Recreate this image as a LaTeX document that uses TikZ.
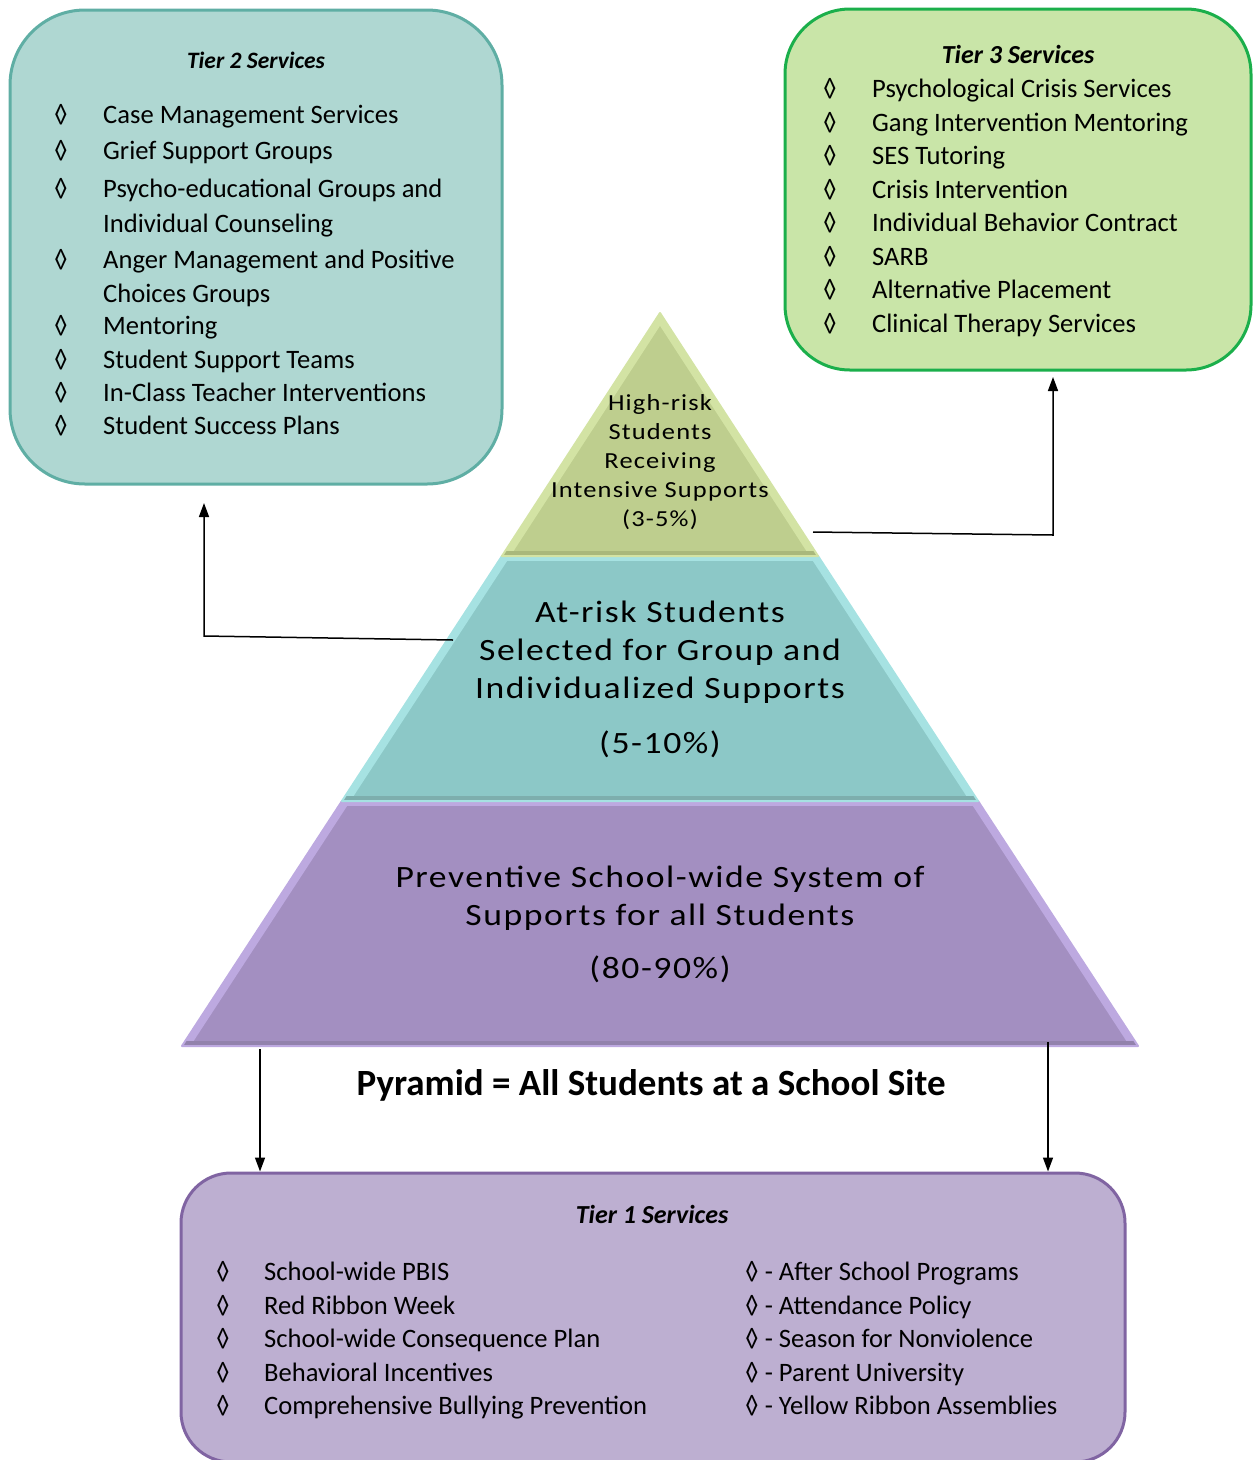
\documentclass[tikz,border=0pt]{standalone}
\usepackage{fontspec}
\setmainfont{Carlito}
\newfontfamily\widefont[FakeStretch=1.15, LetterSpace=5]{Carlito}
\usetikzlibrary{arrows.meta}
\definecolor{tealfill}{HTML}{AFD7D2}
\definecolor{tealline}{HTML}{5FAEA4}
\definecolor{greenfill}{HTML}{C9E5A8}
\definecolor{greenline}{HTML}{1BAF4B}
\definecolor{lilacfill}{HTML}{BDAFD1}
\definecolor{lilacline}{HTML}{8064A2}
\definecolor{olive}{HTML}{BECE8E}
\definecolor{olivelight}{HTML}{D3E3A4}
\definecolor{olivedark}{HTML}{A9B87C}
\definecolor{aqua}{HTML}{8CC8C7}
\definecolor{aqualight}{HTML}{A6E2E2}
\definecolor{aquadark}{HTML}{7DAEAD}
\definecolor{violet}{HTML}{A38FC1}
\definecolor{violetlight}{HTML}{BDA9E0}
\definecolor{violetdark}{HTML}{9282AC}
\tikzset{
    services/.style={rectangle, line width=3pt},
    tiertitle/.style={anchor=base, inner sep=0pt, font=\bfseries\itshape\fontsize{26}{31}\selectfont},
    item/.style={anchor=base west, inner sep=0pt, font=\fontsize{26.6}{32}\selectfont},
    bullet/.style={anchor=base, inner sep=0pt, font=\fontsize{26.6}{32}\selectfont},
    rim/.style={draw=#1, line width=2pt, line join=round},
    band/.style={draw=#1, line width=14pt},
    shade/.style={draw=#1, line width=10pt},
    toptext/.style={anchor=base, inner sep=0pt, font=\widefont\fontsize{23}{29}\selectfont},
    bigtext/.style={anchor=base, inner sep=0pt, font=\widefont\fontsize{31}{38}\selectfont},
    link/.style={-{Triangle[length=14pt, width=10pt]}, line width=1.5pt},
}

\begin{document}
\begin{tikzpicture}[x=1pt, y=-1pt]
    \useasboundingbox (0,0) rectangle (1254,1460);

    % pyramid
    \coordinate (apex) at (660,313);
    \coordinate (a1) at (502,556);  \coordinate (b1) at (818,556);
    \coordinate (a2) at (342,801);  \coordinate (b2) at (978,801);
    \coordinate (a3) at (182,1046); \coordinate (b3) at (1138,1046);

    \fill[violet] (a2) -- (b2) -- (b3) -- (a3) -- cycle;
    \begin{scope}
        \clip (a2) -- (b2) -- (b3) -- (a3) -- cycle;
        \draw[band=violetlight] (a2) -- (a3) (b2) -- (b3);
        \draw[shade=violetlight] (a2) -- (b2);
        \draw[shade=violetdark] (a3) -- (b3);
    \end{scope}
    \draw[rim=violetlight] (a2) -- (b2) -- (b3) -- (a3) -- cycle;

    \fill[aqua] (a1) -- (b1) -- (b2) -- (a2) -- cycle;
    \begin{scope}
        \clip (a1) -- (b1) -- (b2) -- (a2) -- cycle;
        \draw[band=aqualight] (a1) -- (a2) (b1) -- (b2);
        \draw[shade=aqualight] (a1) -- (b1);
        \draw[shade=aquadark] (a2) -- (b2);
    \end{scope}
    \draw[rim=aqualight] (a1) -- (b1) -- (b2) -- (a2) -- cycle;

    \fill[olive] (apex) -- (b1) -- (a1) -- cycle;
    \begin{scope}
        \clip (apex) -- (b1) -- (a1) -- cycle;
        \draw[band=olivelight] (apex) -- (a1) (apex) -- (b1);
        \draw[shade=olivedark] (a1) -- (b1);
    \end{scope}
    \draw[rim=olivelight] (apex) -- (b1) -- (a1) -- cycle;

    \foreach \y/\txt [count=\i] in {410/High-risk, 439/Students, 468/Receiving,
                                    497/Intensive Supports, 526/{(3-5\%)}}
        \node[toptext] (high\i) at (660,\y) {\txt};
    \foreach \y/\txt [count=\i] in {622/At-risk Students, 660/Selected for Group and,
                                    698/Individualized Supports, 753/{(5-10\%)}}
        \node[bigtext] (risk\i) at (660,\y) {\txt};
    \foreach \y/\txt [count=\i] in {887/Preventive School-wide System of,
                                    925/Supports for all Students, 978/{(80-90\%)}}
        \node[bigtext] (prev\i) at (660,\y) {\txt};

    \node[anchor=base, inner sep=0pt, font=\bfseries\fontsize{37}{44}\selectfont]
        (site) at (651,1095) {Pyramid = All Students at a School Site};

    % service boxes
    \node[services, fill=tealfill, draw=tealline, rounded corners=75pt,
          minimum width=492pt, minimum height=474pt] (tier2) at (256,247) {};
    \node[services, fill=greenfill, draw=greenline, rounded corners=65pt,
          minimum width=466pt, minimum height=361pt] (tier3) at (1018,189.5) {};
    \node[services, fill=lilacfill, draw=lilacline, rounded corners=50pt,
          minimum width=944pt, minimum height=289pt] (tier1) at (653,1317.5) {};

    \node[tiertitle, font=\bfseries\itshape\fontsize{23.5}{28}\selectfont] (t2title) at (256,68) {Tier 2 Services};
    \foreach \y in {123,159,197,268,334,368,401,434}
        \node[bullet] (t2b\y) at (61,\y) {◊};
    \foreach \y/\txt in {123/Case Management Services, 159/Grief Support Groups,
                         197/Psycho-educational Groups and, 232/Individual Counseling,
                         268/Anger Management and Positive, 302/Choices Groups,
                         334/Mentoring, 368/Student Support Teams,
                         401/In-Class Teacher Interventions, 434/Student Success Plans}
        \node[item] (t2i\y) at (103,\y) {\txt};

    \node[tiertitle] (t3title) at (1018,63) {Tier 3 Services};
    \foreach \y/\txt in {97/Psychological Crisis Services, 131/Gang Intervention Mentoring,
                         164/SES Tutoring, 198/Crisis Intervention,
                         231/Individual Behavior Contract, 265/SARB,
                         298/Alternative Placement, 332/Clinical Therapy Services}
    {
        \node[bullet] (t3b\y) at (830,\y) {◊};
        \node[item] (t3i\y) at (872,\y) {\txt};
    }

    \node[tiertitle] (t1title) at (652,1223) {Tier 1 Services};
    \foreach \y/\txt/\more in {1280/School-wide PBIS/After School Programs,
                               1314/Red Ribbon Week/Attendance Policy,
                               1347/School-wide Consequence Plan/Season for Nonviolence,
                               1381/Behavioral Incentives/Parent University,
                               1414/Comprehensive Bullying Prevention/Yellow Ribbon Assemblies}
    {
        \node[bullet] (t1b\y) at (223,\y) {◊};
        \node[item] (t1i\y) at (264,\y) {\txt};
        \node[item] (t1j\y) at (745,\y) {◊ - \more};
    }

    % connectors
    \coordinate (midwest) at (453,640);
    \coordinate (topeast) at (813,532);
    \coordinate (t2in) at (204,503);
    \coordinate (t3in) at (1053,377);
    \coordinate (botleft) at (260,1049);
    \coordinate (botright) at (1048,1042);
    \draw[link] (midwest) -- (204,636) -- (t2in);
    \draw[link] (topeast) -- (1053,535) -- (t3in);
    \draw[link] (botleft) -- (botleft |- tier1.north);
    \draw[link] (botright) -- (botright |- tier1.north);
\end{tikzpicture}
\end{document}
